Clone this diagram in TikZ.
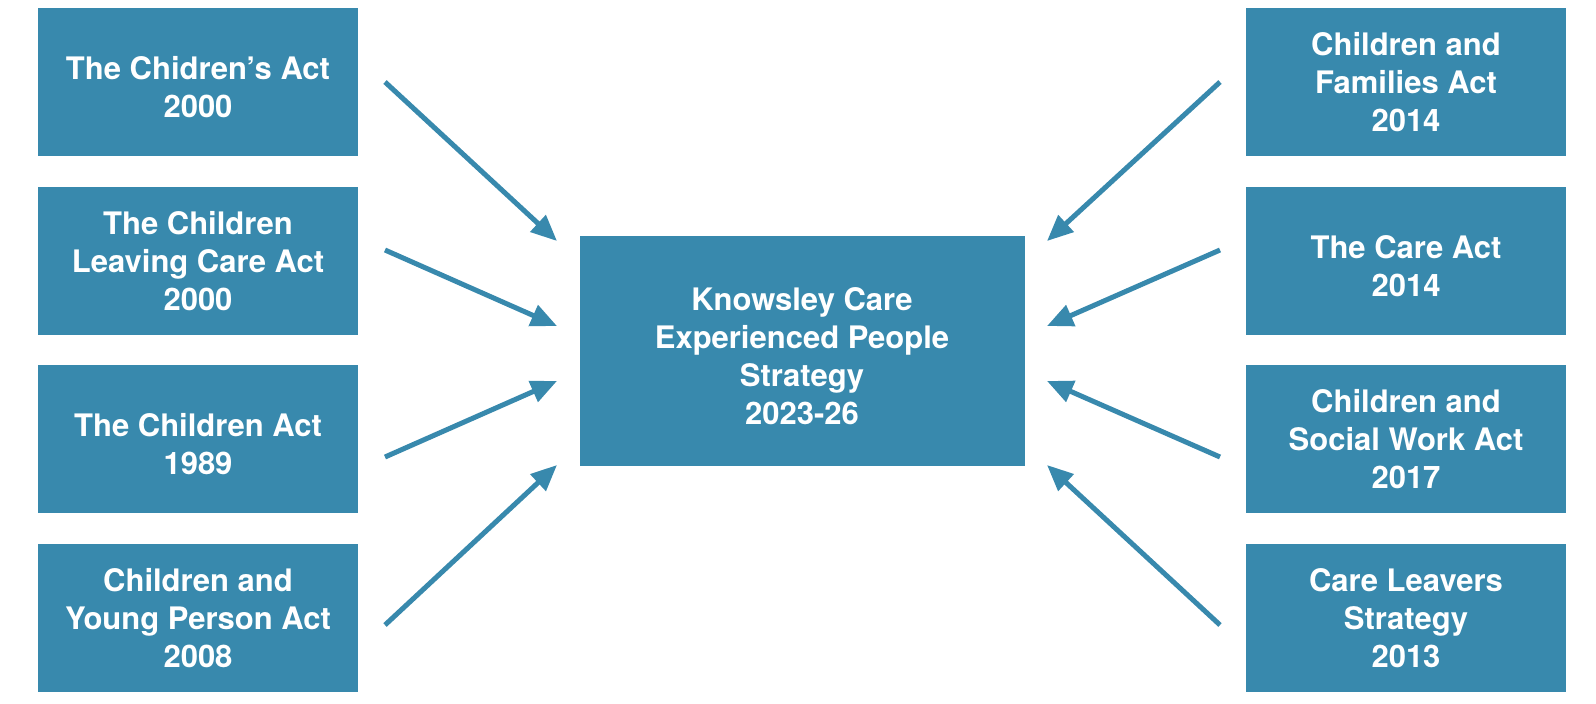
\documentclass[tikz,border=0pt]{standalone}
\usepackage{fontspec}
\setmainfont{TeX Gyre Heros}
\usetikzlibrary{arrows.meta}
\definecolor{actblue}{RGB}{56,137,173}
% raises the first line of a box so its text sits a bit lower
\newcommand{\topgap}{\rule{0pt}{17pt}}
\begin{document}
\begin{tikzpicture}[x=0.5pt,y=-0.5pt,
  act node/.style={rectangle,fill=actblue,text=white,align=center,
    minimum width=160pt,minimum height=74pt,inner sep=0pt,
    font=\fontsize{15.5}{19}\selectfont\bfseries},
  arr/.style={draw=actblue,line width=2.5pt,
    -{Triangle[length=13pt,width=11pt]}}]
  \useasboundingbox (0,0) rectangle (1596,703);

  \node[act node] (l1) at (198,82) {\topgap The Chidren’s Act\\2000};
  \node[act node] (l2) at (198,261) {The Children\\Leaving Care Act\\2000};
  \node[act node] (l3) at (198,439) {\topgap The Children Act\\1989};
  \node[act node] (l4) at (198,618) {Children and\\Young Person Act\\2008};

  \node[act node] (r1) at (1406,82) {Children and\\Families Act\\2014};
  \node[act node] (r2) at (1406,261) {\topgap The Care Act\\2014};
  \node[act node] (r3) at (1406,439) {Children and\\Social Work Act\\2017};
  \node[act node] (r4) at (1406,618) {Care Leavers\\Strategy\\2013};

  \node[act node,minimum width=222.5pt,minimum height=115pt] (kcep) at (802,351)
    {\topgap Knowsley Care\\Experienced People\\Strategy\\2023-26};

  \coordinate (ls1) at (385,82);  \coordinate (le1) at (557,241);
  \coordinate (ls2) at (385,250); \coordinate (le2) at (557,326);
  \coordinate (ls3) at (385,457); \coordinate (le3) at (557,381);
  \coordinate (ls4) at (385,625); \coordinate (le4) at (557,465);
  \coordinate (rs1) at (1220,82);  \coordinate (re1) at (1047,241);
  \coordinate (rs2) at (1220,250); \coordinate (re2) at (1047,326);
  \coordinate (rs3) at (1220,457); \coordinate (re3) at (1047,381);
  \coordinate (rs4) at (1220,625); \coordinate (re4) at (1047,465);

  \foreach \i in {1,...,4}{
    \draw[arr] (ls\i) -- (le\i);
    \draw[arr] (rs\i) -- (re\i);
  }
\end{tikzpicture}
\end{document}
